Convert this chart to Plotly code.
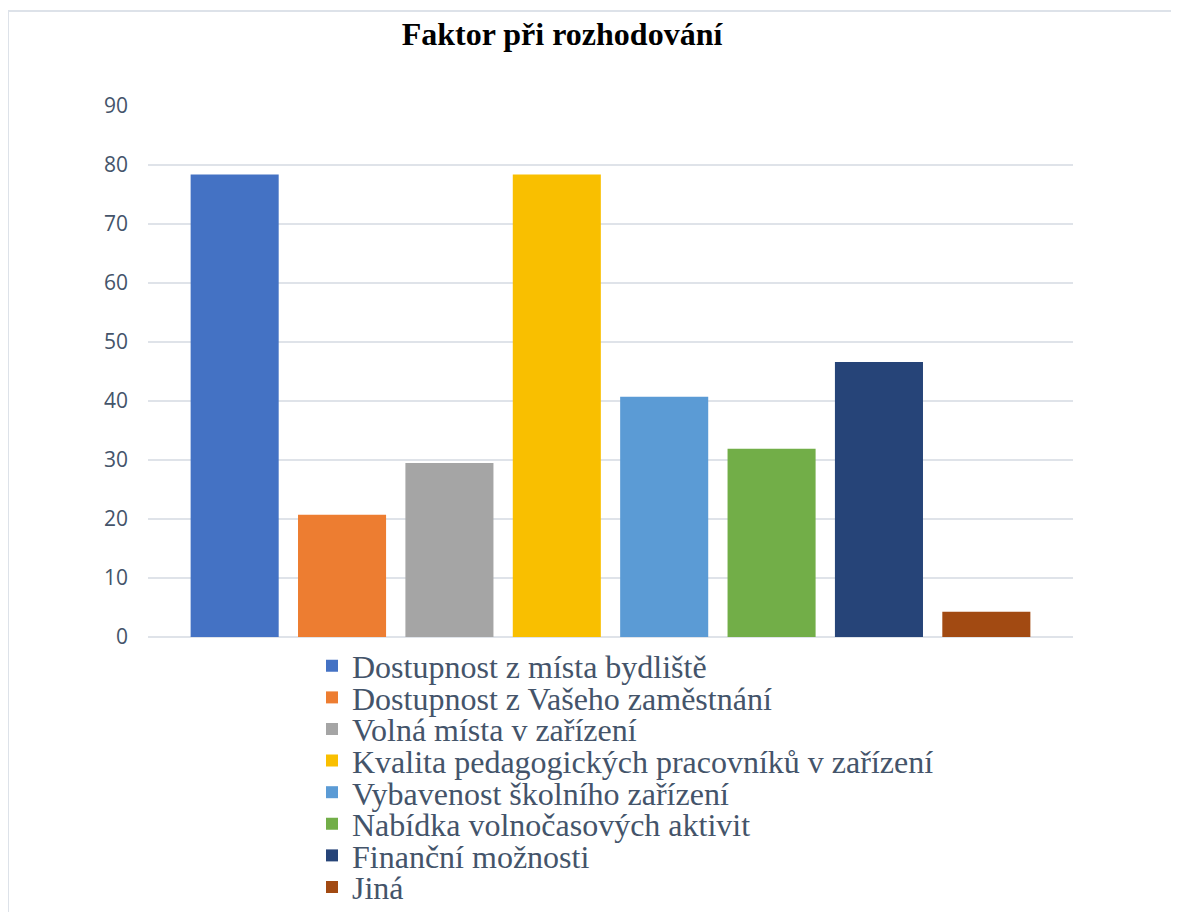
import plotly.graph_objects as go

categories = [
    "Dostupnost z místa bydliště",
    "Dostupnost z Vašeho zaměstnání",
    "Volná místa v zařízení",
    "Kvalita pedagogických pracovníků v zařízení",
    "Vybavenost školního zařízení",
    "Nabídka volnočasových aktivit",
    "Finanční možnosti",
    "Jiná",
]
values = [78.4, 20.7, 29.5, 78.4, 40.7, 31.9, 46.6, 4.3]
colors = ["#4472C4", "#ED7D31", "#A5A5A5", "#F9BF00", "#5B9BD5", "#72AE48", "#264478", "#A24A12"]
y_ticks = [0, 10, 20, 30, 40, 50, 60, 70, 80, 90]
title_text = "Faktor při rozhodování"

# page offset (default body margin of the html page)
OFF = 8
W, H = 1179 - OFF, 912 - OFF


def px(x):  # page x -> figure x
    return x - OFF


def py(y):  # page y -> figure y
    return y - OFF


L = px(148)
R = W - px(1073)
T = py(106)
B = H - py(637)
plot_h = H - T - B
plot_w = W - L - R


def paper_x(page_x):
    return (px(page_x) - L) / plot_w


def paper_y(page_y):
    return (py(637) - py(page_y)) / plot_h


fig = go.Figure()
legend_names = ["legend"] + [f"legend{i}" for i in range(2, len(categories) + 1)]
for i, (cat, val, col) in enumerate(zip(categories, values, colors)):
    fig.add_trace(go.Bar(
        x=[i], y=[val], name=cat,
        marker=dict(color=col, line=dict(width=0)),
        width=0.82,
        legend=legend_names[i],
        hovertemplate=cat + ": %{y}<extra></extra>",
    ))

layout_legends = {}
first_center_page = 666
step_px = 31.6
legend_left_page = 312
for i, ln in enumerate(legend_names):
    ypage = first_center_page + step_px * i
    layout_legends[ln] = dict(
        x=paper_x(legend_left_page),
        xanchor="left",
        y=paper_y(ypage),
        yanchor="middle",
        bgcolor="rgba(0,0,0,0)",
        borderwidth=0,
        font=dict(family="Liberation Serif, Times New Roman, serif", size=32, color="#44546A"),
        itemclick=False, itemdoubleclick=False,
    )

fig.update_layout(
    width=W, height=H,
    margin=dict(l=L, r=R, t=T, b=B, autoexpand=False),
    paper_bgcolor="white",
    plot_bgcolor="white",
    barmode="overlay",
    showlegend=True,
    title=dict(
        text=title_text,
        x=paper_x(562), xref="paper", xanchor="center",
        y=1 - py(34) / H, yref="container", yanchor="middle",
        font=dict(family="Liberation Serif, Times New Roman, serif", size=32, color="black", weight="bold"),
    ),
    xaxis=dict(
        range=[-0.807, 7.807],
        showticklabels=False, showgrid=False, zeroline=False, showline=False,
        fixedrange=True,
    ),
    yaxis=dict(
        range=[0, 90],
        tickvals=y_ticks,
        showgrid=True, gridcolor="#DFE3E9", gridwidth=2,
        zeroline=True, zerolinecolor="#DFE3E9", zerolinewidth=2,
        showline=False,
        tickfont=dict(family="Open Sans, sans-serif", size=21, color="#44546A"),
        ticklabelstandoff=19,
        fixedrange=True,
    ),
    shapes=[dict(
        type="rect", xref="paper", yref="paper",
        x0=paper_x(8), x1=paper_x(1179 + 10),
        y0=paper_y(912 + 10), y1=paper_y(11),
        line=dict(color="#DDE2E9", width=2), fillcolor="rgba(0,0,0,0)",
        layer="below",
    )],
    **layout_legends,
)

fig.write_html("out.html")
